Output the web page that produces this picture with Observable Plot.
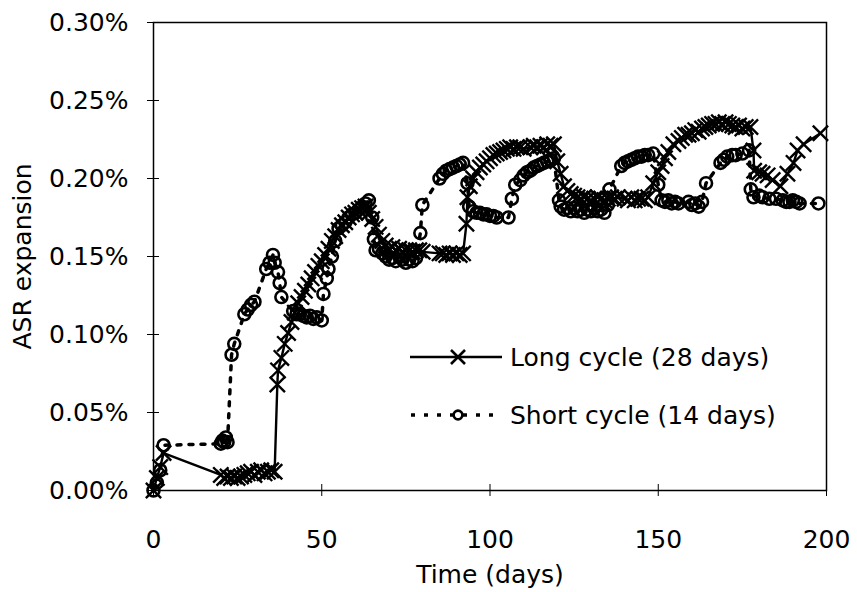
<!DOCTYPE html>
<html><head><meta charset="utf-8">
<script src="https://cdn.jsdelivr.net/npm/d3@7"></script>
<script src="https://cdn.jsdelivr.net/npm/@observablehq/plot@0.6"></script>
<style>
body{margin:0;background:#fff;}
#wrap{position:relative;width:857px;height:592px;font-family:"DejaVu Sans",sans-serif;}
#legend{position:absolute;left:0;top:0;pointer-events:none;}
</style></head><body><div id="wrap"></div>
<script>
// Long cycle (28 days): time (days) and ASR expansion (%)
const longDays = [0,1,2,3,
 20,21,22,23,24,25,26,27,28,29,30,31,32,33,34,35,36,
 36.8,37,38,39,40,41,42,43,44,45,46,47,48,49,50,51,52,53,54,55,56,57,58,59,60,61,62,63,64,65,66,67,68,69,70,71,72,73,74,75,76,77,78,79,80,85,86,87,88,89,90,91,92,
 93,93.3,94,95,96,97,98,99,100,101,102,103,104,105,106,107,108,109,110,112,113,114,115,116,117,118,119,
 120,121,122,123,124,125,126,127,128,129,130,131,132,133,134,135,136,137,138,140,141,142,143,144,145,146,147,
 148.5,150,151,152,153,154.5,156,157,158,159,160,161,162,163,164,165,166,167,168,169,170,171,172,173,174,175,176,177.4,
 178.3,178.5,180,181,182.5,184,186.3,188.4,190.2,191.4,193.2,198.2];
const longValues = [0,0.008,0.015,0.024,
 0.010,0.008,0.009,0.008,0.009,0.008,0.009,0.010,0.011,0.012,0.010,0.012,0.013,0.011,0.012,0.013,0.012,
 0.068,0.077,0.085,0.094,0.101,0.108,0.114,0.120,0.124,0.128,0.132,0.136,0.140,0.144,0.147,0.151,0.155,0.160,0.163,0.167,0.170,0.172,0.175,0.177,0.178,0.180,0.181,0.182,0.178,0.174,0.169,0.164,0.160,0.157,0.155,0.156,0.154,0.155,0.153,0.154,0.154,0.153,0.154,0.154,0.153,0.152,0.152,0.151,0.152,0.151,0.152,0.151,0.152,
 0.171,0.188,0.195,0.200,0.204,0.207,0.209,0.211,0.213,0.215,0.216,0.217,0.218,0.219,0.220,0.219,0.220,0.220,0.219,0.220,0.221,0.220,0.221,0.220,0.222,0.221,0.222,
 0.211,0.203,0.195,0.192,0.190,0.189,0.188,0.187,0.188,0.187,0.186,0.187,0.188,0.187,0.186,0.187,0.188,0.187,0.188,0.187,0.186,0.188,0.186,0.187,0.187,0.186,0.188,
 0.197,0.204,0.208,0.213,0.217,0.222,0.224,0.226,0.228,0.228,0.229,0.231,0.230,0.232,0.233,0.234,0.235,0.235,0.236,0.235,0.236,0.235,0.234,0.233,0.234,0.232,0.233,0.233,
 0.218,0.205,0.204,0.203,0.202,0.199,0.195,0.203,0.210,0.218,0.222,0.229];

// Short cycle (14 days)
const shortDays = [0,1,2,3,
 20,20.5,21,21.5,22,
 23.2,24,27,28,29,30,33.5,34.5,35.5,36,37,37.5,38,
 41.5,42.5,43.5,44.5,45.5,46.5,47.5,48.5,50,
 50.5,51.5,52,53,54,55,56,57,58,59,60,61,62,63,64,
 65,65.5,66,67,68,69,70,71,72,73,74,75,76,77,78,
 79.3,79.9,85,86,87,88,89,90,91,92,
 93.3,93.8,95,96,97,98,99,100,101,102,105.5,
 106.5,107.5,109,110,111,112,113,114,115,116,117,118,119,
 120.5,121,122,123,124,125,126,127,128,129,130,131,132,133,134,135,135.5,
 139,140,141,142,143,144,145,146,147,148.5,
 150,151,152,153,154,155,156,159,160,161,162,163,
 164.2,168.5,169.5,170.5,172,173,175,177,
 177.5,178.3,180,181,183,185,187,188,189,190,191,192,197.6];
const shortValues = [0,0.005,0.013,0.029,
 0.030,0.032,0.031,0.034,0.031,
 0.087,0.094,0.113,0.116,0.119,0.121,0.142,0.146,0.151,0.146,0.140,0.133,0.124,
 0.115,0.113,0.113,0.112,0.111,0.112,0.110,0.111,0.109,
 0.126,0.136,0.142,0.150,0.160,0.168,0.170,0.172,0.175,0.177,0.178,0.180,0.182,0.184,0.186,
 0.175,0.161,0.154,0.155,0.152,0.150,0.148,0.149,0.147,0.150,0.148,0.146,0.148,0.147,0.149,
 0.165,0.183,0.200,0.203,0.205,0.206,0.207,0.208,0.209,0.210,
 0.197,0.182,0.179,0.178,0.178,0.177,0.177,0.176,0.176,0.175,0.175,
 0.187,0.196,0.199,0.202,0.204,0.205,0.207,0.208,0.209,0.210,0.211,0.212,0.213,
 0.186,0.182,0.180,0.181,0.179,0.181,0.179,0.180,0.178,0.180,0.179,0.181,0.179,0.180,0.178,0.183,0.193,
 0.208,0.210,0.211,0.212,0.213,0.214,0.214,0.215,0.215,0.216,
 0.196,0.186,0.185,0.186,0.184,0.185,0.184,0.185,0.183,0.184,0.182,0.185,
 0.197,0.210,0.212,0.214,0.215,0.215,0.216,0.218,
 0.193,0.188,0.189,0.188,0.187,0.187,0.186,0.185,0.185,0.186,0.185,0.184,0.184];

const xTicks = [0, 50, 100, 150, 200];
const yTicks = [0, 0.05, 0.10, 0.15, 0.20, 0.25, 0.30];
const seriesNames = ["Long cycle (28 days)", "Short cycle (14 days)"];
const xLabel = "Time (days)";
const yLabel = "ASR expansion";

const longData = longDays.map((d, i) => ({day: d, value: longValues[i]}));
const shortData = shortDays.map((d, i) => ({day: d, value: shortValues[i]}));

const font = '"DejaVu Sans", sans-serif';
const chart = Plot.plot({
  width: 857, height: 592,
  marginLeft: 153, marginRight: 31, marginTop: 22, marginBottom: 102,
  style: {fontFamily: font, fontSize: "25px", color: "#000", background: "#fff"},
  x: {domain: [0, 200]},
  y: {domain: [0, 0.30]},
  marks: [
    Plot.frame({stroke: "#000", strokeWidth: 1.5}),
    Plot.axisX({ticks: xTicks, tickSize: 6, tickPadding: 34, tickFormat: d => String(d), label: xLabel, labelAnchor: "center", labelOffset: 92, labelArrow: "none"}),
    Plot.axisX({ticks: xTicks, tickSize: 6, dy: -6, tickFormat: () => "", label: null}),
    Plot.axisY({ticks: yTicks, tickSize: 6, tickPadding: 19, tickFormat: d => d.toFixed(2) + "%", label: yLabel, labelAnchor: "center", labelOffset: 140, labelArrow: "none"}),
    Plot.axisY({ticks: yTicks, tickSize: 6, dx: 6, tickFormat: () => "", label: null}),
    Plot.line(longData, {x: "day", y: "value", stroke: "#000", strokeWidth: 2.4}),
    Plot.dot(longData, {x: "day", y: "value", symbol: "times", r: 7, stroke: "#000", strokeWidth: 2.4}),
    Plot.line(shortData, {x: "day", y: "value", stroke: "#000", strokeWidth: 3.5, strokeDasharray: "4,8"}),
    Plot.dot(shortData, {x: "day", y: "value", symbol: "circle", r: 6, stroke: "#000", strokeWidth: 2.6, fill: "none"})
  ]
});
const wrap = document.getElementById("wrap");
wrap.appendChild(chart);

// Legend overlay
const leg = d3.select(wrap).append("svg").attr("id", "legend").attr("width", 857).attr("height", 592);
const rows = [
  {name: seriesNames[0], y: 357, dash: null, sw: 2.4, sym: d3.symbolTimes, size: 130, lx1: 410},
  {name: seriesNames[1], y: 415, dash: "4,9", sw: 3.5, sym: d3.symbolCircle, size: 60, lx1: 411}
];
rows.forEach(r => {
  leg.append("line").attr("x1", r.lx1).attr("x2", 502).attr("y1", r.y).attr("y2", r.y)
    .attr("stroke", "#000").attr("stroke-width", r.sw).attr("stroke-dasharray", r.dash);
  leg.append("path").attr("transform", `translate(458,${r.y})`)
    .attr("d", d3.symbol(r.sym, r.size)())
    .attr("fill", "#fff").attr("stroke", "#000").attr("stroke-width", 2.6);
  leg.append("text").attr("x", 510).attr("y", r.y).attr("dy", "0.35em")
    .attr("font-family", font).attr("font-size", 25).attr("fill", "#000").text(r.name);
});
</script></body></html>
